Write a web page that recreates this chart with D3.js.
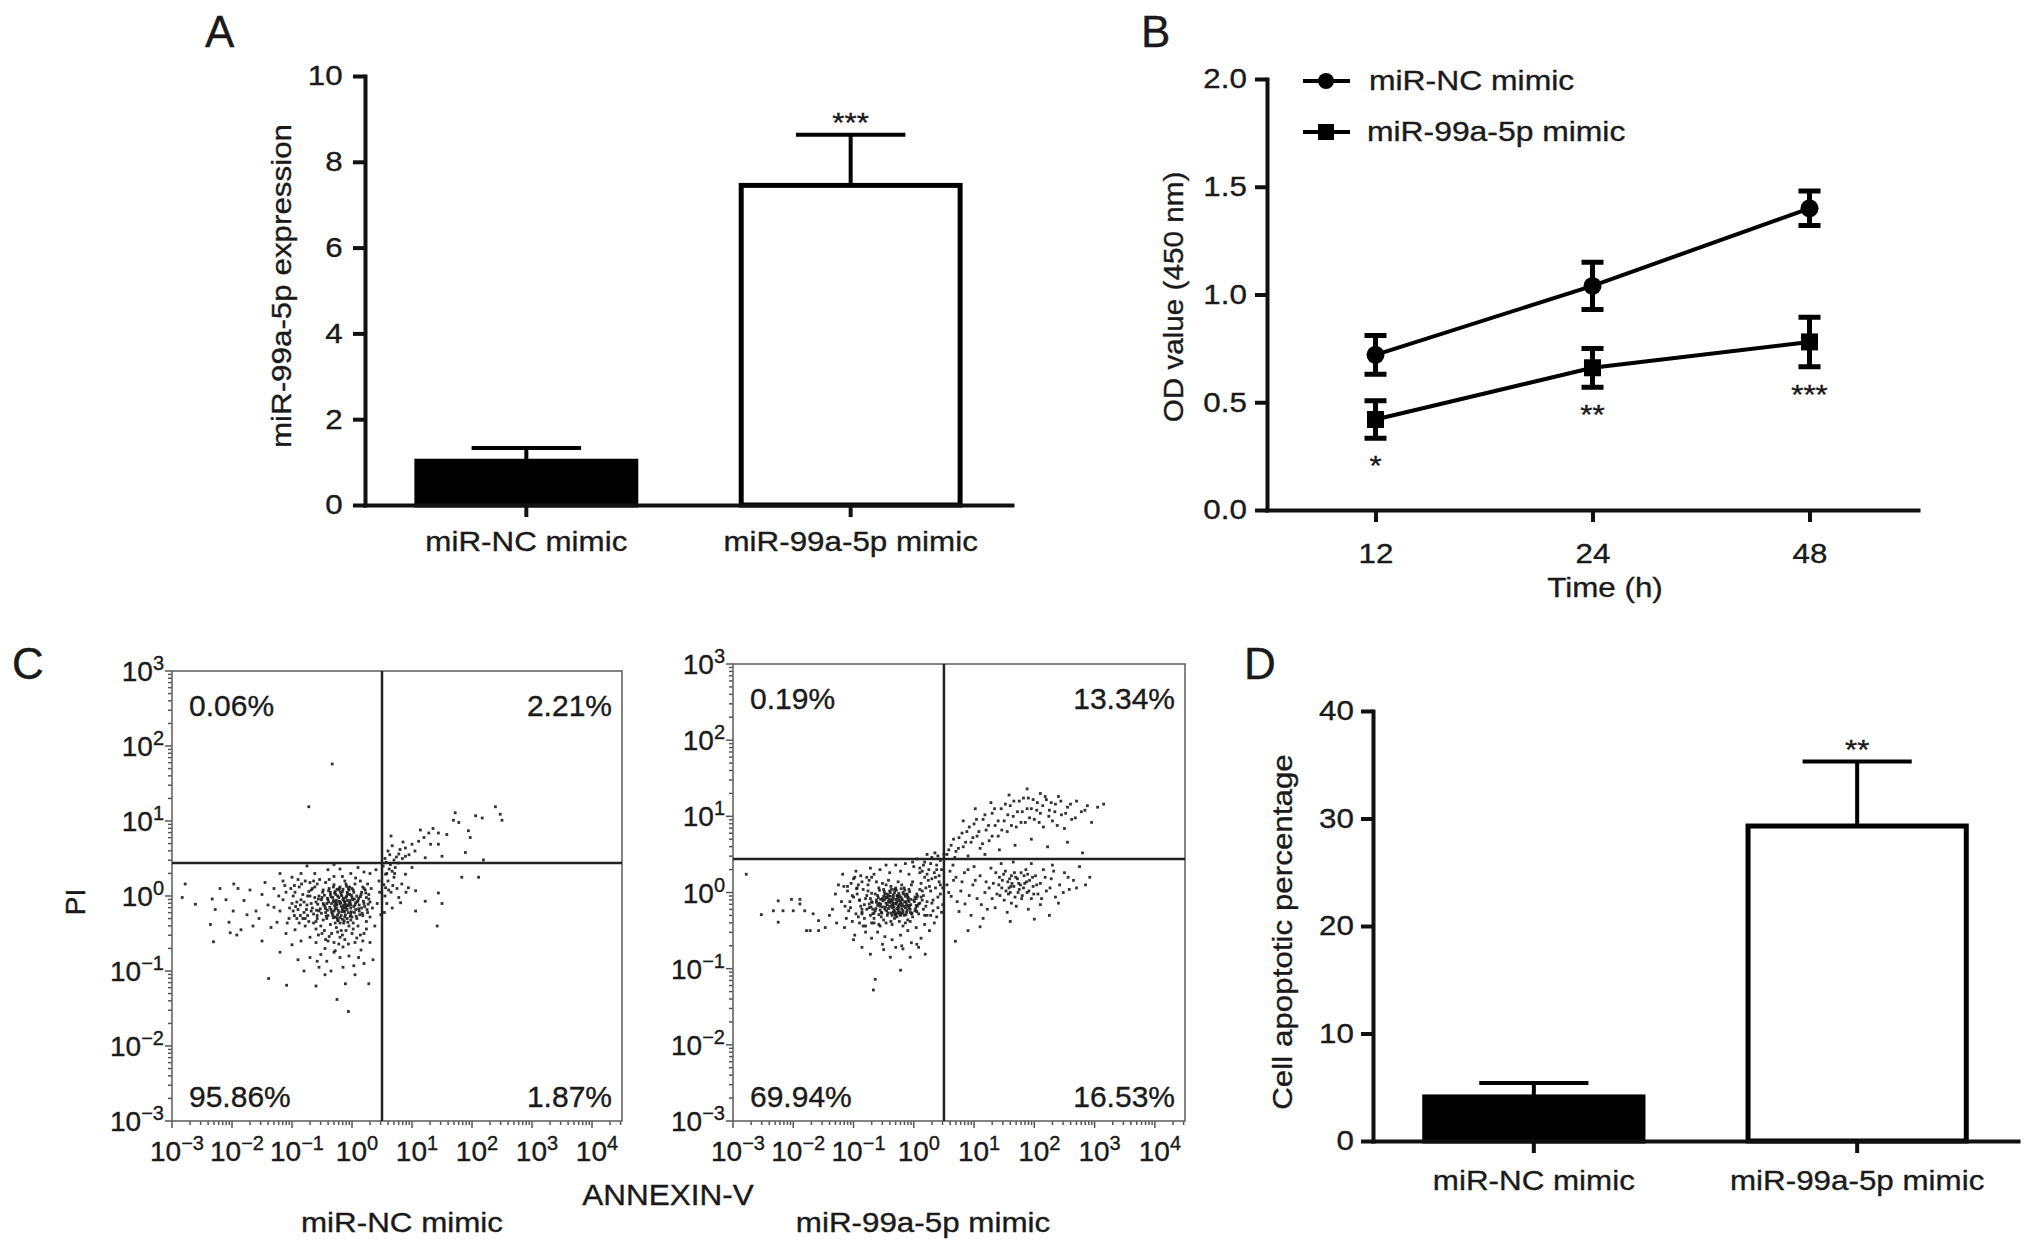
<!DOCTYPE html>
<html>
<head>
<meta charset="utf-8">
<script src="https://cdn.jsdelivr.net/npm/d3@7"></script>
<style>
  body { margin: 0; background: #fff; }
  svg { display: block; }
  text { font-family: "Liberation Sans", Arial, Helvetica, sans-serif; fill: #1a1a1a; stroke: #1a1a1a; stroke-width: 0.35; }
</style>
</head>
<body>
<svg width="2032" height="1251"></svg>
<script>
// ---- data ----
const groups = ['miR-NC mimic', 'miR-99a-5p mimic'];

// A: relative expression
const exprMean = [1.02, 7.45];
const exprErr = [0.31, 1.18];
const exprStars = ['', '***'];
const exprTicks = [0, 2, 4, 6, 8, 10];

// B: CCK-8 OD values
const hours = [12, 24, 48];
const odNC = [0.72, 1.04, 1.40];
const odNCErr = [0.09, 0.11, 0.08];
const od99 = [0.42, 0.66, 0.78];
const od99Err = [0.087, 0.09, 0.115];
const odStars = ['*', '**', '***'];
const odTicks = [0, 0.5, 1.0, 1.5, 2.0];

// D: apoptosis percentage
const apopMean = [4.1, 29.3];
const apopErr = [1.3, 6.0];
const apopStars = ['', '**'];
const apopTicks = [0, 10, 20, 30, 40];

// C: flow cytometry quadrants (UL, UR, LL, LR)
const quadNC = ['0.06%', '2.21%', '95.86%', '1.87%'];
const quad99 = ['0.19%', '13.34%', '69.94%', '16.53%'];
const decadesX = [-3, -2, -1, 0, 1, 2, 3, 4];
const decadesY = [-3, -2, -1, 0, 1, 2, 3];
const gateLog = [0.5, 0.44]; // annexin, PI gate (log10)

// events as [log10 ANNEXIN-V, log10 PI]
const cellsNC = [
  [-0.20,-0.10],[-0.15,-0.05],[-0.25,-0.12],[-0.10,-0.15],[-0.30,-0.08],[-0.05,-0.10],[0.00,-0.02],[-0.35,-0.18],[-0.18,0.02],[-0.22,-0.22],
  [-0.12,-0.28],[-0.40,-0.05],[-0.08,0.05],[0.05,-0.12],[-0.28,0.06],[-0.45,-0.14],[-0.02,-0.24],[0.10,-0.06],[-0.32,-0.26],[-0.16,-0.18],
  [-0.50,-0.02],[-0.24,-0.32],[0.12,-0.20],[-0.06,0.10],[-0.38,0.10],[-0.55,-0.20],[0.02,0.08],[-0.14,-0.36],[0.15,0.02],[-0.42,-0.30],
  [-0.60,-0.08],[-0.30,0.15],[0.08,-0.30],[-0.20,0.12],[-0.66,-0.16],[0.20,-0.10],[-0.05,-0.40],[-0.48,0.08],[0.18,-0.26],[-0.10,0.16],
  [-0.70,0.00],[-0.26,-0.42],[0.22,0.08],[-0.58,-0.30],[-0.36,-0.38],[0.05,0.16],[-0.75,-0.12],[0.25,-0.18],[-0.02,-0.32],[-0.44,0.18],
  [-0.80,-0.22],[-0.18,-0.46],[0.28,-0.04],[-0.62,0.12],[0.10,-0.40],[-0.12,0.20],[-0.85,-0.05],[0.30,-0.28],[-0.52,-0.40],[-0.34,-0.50],
  [-0.90,-0.18],[0.32,0.10],[-0.72,-0.34],[0.00,-0.50],[-0.20,-0.55],[0.14,0.20],[-0.54,0.22],[-0.95,0.05],[0.34,-0.16],[-0.40,-0.60],
  [-0.08,-0.06],[-0.22,-0.02],[-0.30,-0.20],[-0.12,-0.20],[-0.02,-0.16],[-0.26,-0.16],[-0.18,-0.26],[-0.06,-0.22],[-0.34,-0.10],[-0.10,-0.02],
  [-0.16,0.06],[0.04,-0.04],[-0.24,0.00],[-0.04,0.02],[-0.28,-0.28],[0.06,-0.18],[-0.14,-0.12],[-0.36,0.02],[-0.20,-0.36],[0.00,-0.28],
  [-0.44,-0.22],[-0.48,-0.10],[0.08,0.00],[-0.26,-0.06],[-0.12,-0.08],[-0.04,-0.06],[-0.32,-0.02],[-0.18,-0.14],[-0.08,-0.30],[0.12,-0.12],
  [-0.40,-0.26],[-0.22,0.08],[-0.56,-0.04],[0.16,-0.16],[-0.64,-0.24],[0.02,-0.36],[-0.28,-0.36],[0.18,0.12],[-0.38,0.22],[-0.10,-0.46],
  [0.24,-0.34],[-0.46,-0.46],[0.26,0.16],[-0.68,0.08],[-0.16,0.26],[0.06,0.24],[-0.78,-0.30],[0.30,-0.08],[-0.60,-0.44],[-0.30,0.26],
  [-0.19,-0.09],[-0.13,-0.07],[-0.27,-0.11],[-0.09,-0.13],[-0.31,-0.06],[-0.03,-0.09],[0.01,-0.05],[-0.37,-0.15],[-0.17,0.00],[-0.23,-0.19],
  [-0.11,-0.25],[-0.41,-0.03],[-0.07,0.03],[0.03,-0.14],[-0.29,0.04],[-0.47,-0.12],[-0.01,-0.21],[0.09,-0.08],[-0.33,-0.23],[-0.15,-0.15],
  [-0.51,-0.05],[-0.25,-0.29],[0.11,-0.17],[-0.05,0.08],[-0.39,0.07],[-0.53,-0.17],[0.03,0.05],[-0.13,-0.33],[0.14,-0.01],[-0.43,-0.27],
  [-0.57,-0.11],[-0.31,0.12],[0.07,-0.27],[-0.21,0.10],[-0.59,-0.19],[0.19,-0.07],[-0.07,-0.35],[-0.49,0.05],[0.17,-0.23],[-0.09,0.13],
  [-0.21,-0.07],[-0.14,-0.03],[-0.26,-0.09],[-0.11,-0.11],[-0.29,-0.13],[-0.06,-0.13],[-0.01,0.01],[-0.34,-0.21],[-0.19,0.05],[-0.24,-0.25],
  [-0.13,-0.21],[-0.39,-0.08],[-0.09,0.00],[0.06,-0.09],[-0.27,0.02],[-0.44,-0.17],[-0.03,-0.27],[0.11,-0.03],[-0.31,-0.29],[-0.17,-0.21],
  [-0.46,0.01],[-0.23,-0.33],[0.13,-0.25],[-0.04,0.12],[-0.36,0.05],[-0.51,-0.23],[0.00,0.10],[-0.16,-0.31],[0.16,0.05],[-0.41,-0.19],
  [0.21,-0.14],[0.24,-0.02],[0.26,-0.22],[0.23,0.04],[0.27,-0.11],[-0.55,0.00],[-0.58,-0.26],[0.20,0.10],[-0.48,-0.32],[0.28,0.02],
  [-0.08,-0.18],[-0.28,-0.17],[-0.20,-0.29],[-0.35,-0.01],[-0.02,-0.12],[-0.15,0.09],[-0.42,-0.10],[0.04,-0.22],[-0.25,0.09],[-0.12,-0.16],
  [-0.62,-0.02],[-0.68,-0.10],[-0.72,0.06],[-0.76,-0.18],[-0.82,0.02],[-0.86,-0.26],[-0.92,-0.08],[-0.96,0.14],[-0.64,-0.36],[-0.70,0.18],
  [-0.78,-0.40],[-0.84,0.16],[-0.88,-0.36],[-0.94,-0.14],[-0.98,0.00],[-0.66,0.10],[-0.74,-0.26],[-0.80,-0.08],[-0.90,0.22],[-0.58,0.16],
  [-0.60,-0.34],[-1.04,-0.16],[-1.08,-0.36],[-1.12,0.14],[-0.86,-0.12],[-0.74,0.00],[-0.68,-0.20],[-0.82,-0.30],[-0.96,-0.26],[-0.64,0.20],
  [-0.50,-0.50],[-0.38,-0.54],[-0.24,-0.48],[-0.12,-0.58],[0.02,-0.44],[0.14,-0.52],[0.24,-0.44],[-0.30,-0.62],[-0.06,-0.64],[0.08,-0.56],
  [-0.44,-0.58],[-0.16,-0.52],[0.18,-0.60],[-0.56,-0.52],[-0.22,-0.64],
  [-1.00,-0.10],[-1.10,0.05],[-1.20,-0.20],[-1.30,0.10],[-1.05,-0.30],[-1.40,-0.12],[-1.15,0.20],[-1.50,0.02],[-1.25,-0.35],[-1.60,-0.20],
  [-1.70,0.08],[-1.45,0.18],[-1.80,-0.06],[-1.35,-0.42],[-1.90,0.10],[-1.55,-0.30],[-1.00,0.25],[-0.95,-0.45],[-1.65,-0.40],[-1.75,-0.25],
  [-1.20,0.30],[-1.10,-0.50],[-0.85,0.30],[-0.70,-0.55],[-0.60,-0.62],[-0.45,-0.70],[-0.30,-0.75],[-0.15,-0.68],[0.05,-0.62],[0.20,-0.50],
  [0.38,-0.40],[0.42,-0.10],[0.45,0.20],[0.40,0.35],[0.30,0.30],[0.20,0.32],[-0.02,0.30],[-0.20,0.36],[-0.40,0.35],[-0.62,0.30],
  [-0.78,0.20],[0.48,-0.25],[0.46,0.05],[-0.05,-0.80],[-0.20,-0.82],[0.15,-0.72],[0.30,-0.62],[-0.52,-0.78],[-0.85,-0.60],[-1.00,-0.65],
  [-0.75,0.40],[0.10,0.38],[-0.30,0.42],[-1.30,-0.15],[-1.15,-0.05],[-0.92,-0.30],[-0.88,0.12],[-1.02,0.10],[-1.22,0.00],[-0.98,-0.20],
  [-2.78,0.16],[-2.83,-0.02],[-2.61,-0.11],[-2.33,-0.04],[-2.28,-0.18],[-2.36,-0.38],[-2.31,-0.61],[-1.97,0.16],[-2.03,-0.49],[-1.92,-0.52],
  [-2.10,-0.05],[-2.20,0.10],[-1.98,-0.20],[-2.05,-0.35],[-1.85,-0.45],
  [-1.39,-1.10],[-1.09,-1.19],[-0.11,-1.17],[0.28,-1.17],[-0.25,-1.38],[-0.06,-1.54],[-0.55,-0.95],[-0.58,-0.87],[0.03,-0.93],[0.11,-0.82],
  [-0.42,-0.87],[-0.28,-0.73],[-0.70,-0.82],[-0.35,-1.00],[-0.15,-0.95],[0.20,-0.90],[-0.90,-0.85],[-1.20,-0.75],[-1.50,-0.60],[0.35,-0.85],
  [-0.45,-1.05],[-0.80,-1.00],[0.05,-1.05],[-0.60,-1.20],
  [-0.33,1.76],[-0.72,1.19],
  [0.67,0.33],[0.56,0.29],[0.89,0.29],[1.00,0.38],[0.83,0.16],[0.94,0.11],[1.06,0.07],[0.78,-0.02],[0.67,-0.16],[0.81,-0.09],
  [1.22,-0.07],[1.06,-0.20],[1.44,0.04],[1.50,-0.10],[1.42,-0.40],[1.83,0.25],[2.11,0.25],[0.56,0.11],[0.52,0.40],[0.60,0.20],
  [0.55,0.00],[0.58,-0.10],[0.62,0.36],[0.70,0.25],[0.75,0.10],[0.54,-0.22],[0.65,0.05],[0.72,0.38],[0.90,0.05],[0.58,0.30],
  [0.53,0.15],[0.61,0.08],[0.68,0.14],[0.71,0.30],
  [0.57,0.45],[0.64,0.42],[0.74,0.52],[0.77,0.44],[0.84,0.50],[0.63,0.55],
  [0.67,0.67],[0.89,0.64],[1.00,0.69],[1.11,0.73],[1.14,0.88],[1.28,0.84],[1.44,0.84],[1.58,0.82],[1.72,1.11],[1.69,1.01],
  [1.78,0.98],[2.06,1.07],[2.17,1.04],[2.39,1.19],[2.47,1.09],[2.50,1.01],[1.94,0.87],[1.97,0.78],[1.89,0.58],[1.44,0.69],
  [1.31,0.69],[1.50,0.53],[2.19,0.48],[1.22,0.51],[0.89,0.53],[0.78,0.56],[0.55,0.50],[0.60,0.60],[0.70,0.48],[0.80,0.62],
  [0.95,0.55],[1.05,0.60],[0.65,0.80],[1.20,0.78],[1.35,0.90],[0.85,0.72]
];

const cells99 = [
  [-0.30,-0.15],[-0.25,-0.10],[-0.36,-0.20],[-0.20,-0.18],[-0.42,-0.12],[-0.15,-0.12],[-0.10,-0.06],[-0.48,-0.22],[-0.28,-0.04],[-0.34,-0.26],
  [-0.22,-0.30],[-0.52,-0.08],[-0.18,0.00],[-0.05,-0.16],[-0.40,0.02],[-0.56,-0.18],[-0.12,-0.26],[0.00,-0.10],[-0.44,-0.30],[-0.26,-0.22],
  [-0.60,-0.04],[-0.32,-0.34],[0.02,-0.24],[-0.16,0.06],[-0.50,0.04],[-0.64,-0.24],[-0.08,0.04],[-0.24,-0.38],[0.05,-0.02],[-0.54,-0.32],
  [-0.70,-0.12],[-0.38,0.08],[-0.02,-0.32],[-0.30,0.06],[-0.74,-0.20],[0.10,-0.14],[-0.14,-0.40],[-0.58,0.06],[0.08,-0.28],[-0.20,0.10],
  [-0.78,-0.04],[-0.36,-0.42],[0.14,0.02],[-0.66,-0.34],[-0.46,-0.40],[-0.04,0.10],[-0.82,-0.16],[0.16,-0.22],[-0.10,-0.36],[-0.52,0.12],
  [-0.28,-0.12],[-0.34,-0.06],[-0.40,-0.18],[-0.22,-0.14],[-0.14,-0.20],[-0.46,-0.06],[-0.30,-0.28],[-0.18,-0.24],[-0.38,-0.10],[-0.24,-0.04],
  [-0.32,0.00],[-0.08,-0.12],[-0.44,-0.16],[-0.12,-0.02],[-0.36,-0.30],[-0.06,-0.22],[-0.26,-0.18],[-0.48,-0.02],[-0.28,-0.32],[-0.04,-0.28],
  [-0.54,-0.26],[-0.58,-0.14],[0.04,-0.08],[-0.34,-0.14],[-0.20,-0.08],[-0.16,-0.30],[-0.42,-0.04],[-0.24,-0.26],[-0.10,-0.18],[0.06,-0.18],
  [-0.50,-0.36],[-0.32,0.04],[-0.62,-0.10],[0.12,-0.06],[-0.68,-0.28],[-0.06,-0.38],[-0.38,-0.38],[0.10,0.04],[-0.46,0.10],[-0.18,-0.44],
  [0.18,-0.30],[-0.56,-0.44],[0.20,0.06],[-0.76,0.02],[-0.26,0.14],[-0.02,0.14],[-0.86,-0.28],[0.22,-0.12],[-0.70,-0.40],[-0.42,0.16],
  [-0.29,-0.14],[-0.23,-0.11],[-0.35,-0.17],[-0.19,-0.15],[-0.41,-0.09],[-0.13,-0.13],[-0.09,-0.07],[-0.47,-0.19],[-0.27,-0.05],[-0.33,-0.23],
  [-0.21,-0.27],[-0.51,-0.11],[-0.17,-0.02],[-0.07,-0.17],[-0.39,0.00],[-0.55,-0.15],[-0.11,-0.23],[0.01,-0.12],[-0.43,-0.27],[-0.25,-0.19],
  [-0.59,-0.07],[-0.31,-0.29],[0.03,-0.21],[-0.15,0.03],[-0.49,0.01],[-0.63,-0.21],[-0.07,0.01],[-0.23,-0.29],[0.06,-0.05],[-0.53,-0.27],
  [-0.69,-0.13],[-0.37,0.04],[-0.03,-0.27],[-0.29,0.03],[-0.71,-0.19],[0.08,-0.15],[-0.13,-0.29],[-0.57,0.03],[0.05,-0.25],[-0.21,0.05],
  [-0.30,-0.09],[-0.36,-0.12],[-0.42,-0.21],[-0.24,-0.16],[-0.16,-0.18],[-0.48,-0.09],[-0.32,-0.25],[-0.20,-0.22],[-0.40,-0.13],[-0.26,-0.07],
  [-0.34,-0.03],[-0.10,-0.10],[-0.46,-0.14],[-0.14,-0.05],[-0.38,-0.27],[-0.08,-0.20],[-0.28,-0.21],[-0.50,-0.05],[-0.30,-0.30],[-0.06,-0.26],
  [-0.56,-0.23],[-0.60,-0.17],[0.02,-0.06],[-0.36,-0.16],[-0.22,-0.06],[-0.18,-0.27],[-0.44,-0.07],[-0.26,-0.24],[-0.12,-0.16],[0.04,-0.17],
  [-0.52,-0.19],[-0.44,-0.02],[-0.64,-0.02],[-0.66,-0.27],[-0.72,-0.08],[-0.58,-0.29],[-0.62,-0.13],[-0.68,-0.22],[-0.74,-0.15],[-0.70,-0.01],
  [-0.33,-0.19],[-0.27,-0.27],[-0.39,-0.05],[-0.19,-0.10],[-0.45,-0.24],[-0.11,-0.03],[-0.05,-0.09],[-0.55,-0.09],[-0.35,-0.09],[-0.25,-0.01],
  [-0.80,-0.08],[-0.84,0.04],[-0.88,-0.18],[-0.92,0.10],[-0.96,-0.28],[-1.00,-0.06],[-1.04,0.12],[-1.08,-0.24],[-0.82,-0.34],[-0.86,0.14],
  [-0.90,-0.40],[-0.94,-0.02],[-0.98,0.20],[-1.02,-0.38],[-1.06,-0.12],[-0.78,-0.22],[-0.76,0.10],[-0.72,-0.30],[-0.74,0.16],[-0.80,-0.44],
  [-1.10,0.02],[-1.14,-0.18],[-1.16,0.08],[-0.86,-0.26],[-0.90,-0.10],[-0.94,0.06],[-0.70,0.20],[-0.66,-0.40],[-0.62,0.14],[-0.58,-0.42],
  [0.12,0.12],[0.16,-0.04],[0.20,-0.18],[0.24,0.16],[0.28,0.02],[0.32,-0.24],[0.36,0.20],[0.40,-0.06],[0.44,0.10],[0.48,-0.16],
  [0.14,-0.10],[0.18,0.20],[0.22,-0.30],[0.26,0.08],[0.30,-0.14],[0.34,0.26],[0.38,-0.32],[0.42,0.22],[0.46,-0.26],[0.48,0.06],
  [-0.90,-0.10],[-0.95,0.05],[-1.05,-0.20],[-1.10,0.08],[-0.92,-0.32],[-1.20,-0.12],[-1.00,0.18],[-1.30,-0.02],[-1.12,-0.34],[-1.35,-0.22],
  [-1.25,0.10],[-1.40,-0.30],[-0.88,0.22],[-0.84,-0.44],[-1.15,-0.46],[-0.78,0.20],[-0.66,0.24],[-0.60,-0.52],[-0.48,-0.58],[-0.36,-0.62],
  [-0.22,-0.56],[-0.10,-0.50],[0.04,-0.46],[0.18,-0.42],[0.28,-0.30],[0.32,-0.10],[0.36,0.06],[0.30,0.18],[0.22,0.24],[0.10,0.26],
  [-0.08,0.24],[-0.22,0.28],[-0.40,0.26],[-0.56,0.30],[0.40,-0.20],[0.42,0.14],[0.26,-0.50],[0.12,-0.60],[-0.04,-0.66],[-0.30,-0.72],
  [-0.52,-0.68],[-0.70,-0.60],[-0.98,-0.56],[-0.72,0.32],[0.00,0.34],[0.38,0.30],[-0.30,0.36],[-1.02,-0.04],[-0.86,-0.22],[-0.96,0.28],
  [0.44,-0.02],[0.34,-0.40],[0.16,0.36],[-0.14,0.38],[-0.46,0.36],[-1.18,0.24],[-1.28,-0.40],[-0.80,-0.52],[0.08,-0.72],[-0.18,-0.74],
  [0.10,0.32],[0.18,0.40],[0.25,0.30],[0.30,0.46],[0.38,0.36],[0.44,0.42],[0.05,0.44],[0.22,0.50],[0.35,0.52],[0.46,0.30],
  [0.14,0.28],[0.40,0.48],[-0.02,0.40],[0.28,0.38],[0.50,0.50],
  [-2.78,0.24],[-2.53,-0.29],[-2.25,-0.11],[-2.25,-0.39],[-2.33,-0.24],[-2.17,-0.24],[-2.00,-0.24],[-2.03,-0.09],[-1.89,-0.09],[-1.89,-0.15],
  [-1.81,-0.24],[-1.67,-0.28],[-1.58,-0.37],[-1.78,-0.50],[-1.72,-0.50],[-1.58,-0.50],[-1.47,-0.46],
  [-0.64,-1.14],[-0.67,-1.28],[-0.22,-1.02],[-0.72,-0.81],[-0.86,-0.72],[-0.39,-0.85],[-0.06,-0.85],[0.19,-0.81],[0.69,-0.64],[-0.50,-0.75],
  [-0.20,-0.70],[0.05,-0.68],[-1.00,-0.62],
  [0.55,0.10],[0.62,-0.05],[0.70,0.20],[0.78,0.02],[0.85,-0.15],[0.90,0.30],[0.98,0.10],[1.05,-0.08],[1.10,0.22],[1.18,0.00],
  [1.22,-0.22],[1.28,0.32],[1.32,0.12],[1.38,-0.02],[1.42,0.20],[1.46,0.06],[1.50,-0.10],[1.52,0.28],[1.56,0.14],[1.60,0.00],
  [1.62,0.22],[1.66,0.08],[1.68,-0.06],[1.72,0.18],[1.75,0.04],[1.78,0.26],[1.80,-0.04],[1.84,0.12],[1.86,0.30],[1.88,0.00],
  [1.92,0.16],[1.95,-0.08],[1.98,0.08],[2.02,0.22],[2.06,-0.02],[2.10,0.12],[2.15,0.30],[2.20,0.02],[2.28,0.18],[2.35,-0.06],
  [2.42,0.10],[2.50,0.26],[2.58,0.04],[2.65,0.16],[2.75,0.34],[2.85,0.10],[0.65,0.36],[0.75,-0.25],[0.95,-0.30],[1.15,-0.34],
  [1.35,-0.20],[1.55,-0.26],[1.70,-0.18],[1.90,-0.22],[2.10,-0.16],[2.25,-0.30],[1.45,0.38],[1.65,0.40],[1.95,0.38],[2.30,0.36],
  [0.60,0.28],[0.80,0.14],[1.00,0.34],[1.25,0.06],[1.62,-0.14],[1.82,0.06],[1.74,0.12],[1.58,0.06],
  [1.10,-0.45],[0.90,-0.50],[1.60,-0.38],[2.00,-0.35],
  [1.41,0.10],[1.47,0.16],[1.53,0.02],[1.59,0.18],[1.63,0.12],[1.69,0.20],[1.73,0.00],[1.77,0.10],[1.83,0.22],[1.87,0.14],
  [1.91,0.02],[1.97,0.20],[1.43,-0.04],[1.49,0.24],[1.57,-0.02],[1.67,0.26],[1.79,-0.08],[1.89,0.24],[1.99,-0.02],[1.61,0.08],
  [0.58,0.00],[0.66,0.16],[0.72,-0.12],[0.84,0.26],[0.92,-0.04],[1.02,0.16],[1.12,-0.16],[1.20,0.14],[1.30,-0.08],[1.36,0.26],
  [2.04,0.10],[2.12,-0.08],[2.18,0.20],[2.26,0.06],[2.32,0.28],[2.40,-0.14],[2.48,0.00],[2.56,0.20],[2.70,0.06],[2.92,0.20],
  [0.55,0.50],[0.62,0.62],[0.70,0.54],[0.75,0.72],[0.82,0.60],[0.88,0.80],[0.95,0.66],[1.00,0.90],[1.05,0.74],[1.10,0.58],
  [1.15,0.96],[1.20,0.82],[1.25,0.68],[1.30,1.04],[1.35,0.88],[1.40,0.74],[1.45,1.10],[1.50,0.94],[1.55,0.80],[1.60,1.14],
  [1.65,1.00],[1.70,0.86],[1.75,1.20],[1.80,1.06],[1.85,0.92],[1.90,1.24],[1.95,1.10],[2.00,0.96],[2.05,1.18],[2.10,1.04],
  [2.15,0.86],[2.20,1.22],[2.25,1.08],[2.30,0.94],[2.35,1.16],[2.40,1.26],[2.45,1.02],[2.50,0.84],[2.55,1.12],[2.62,0.96],
  [2.70,1.20],[2.78,1.06],[2.88,1.14],[3.05,1.12],[2.95,0.92],[0.68,0.46],[0.90,0.48],[1.18,0.50],[1.42,0.56],[1.68,0.62],
  [1.95,0.70],[2.22,0.60],[2.55,0.66],[2.80,0.52],[1.28,1.18],[1.58,1.28],[1.88,1.36],[2.10,1.30],[1.02,1.10],[0.82,0.94],
  [0.58,0.56],[0.66,0.70],[0.74,0.58],[0.80,0.78],[0.86,0.66],[0.92,0.86],[0.98,0.72],[1.04,0.96],[1.08,0.80],[1.14,0.64],
  [1.18,1.02],[1.24,0.88],[1.30,0.74],[1.34,1.10],[1.40,0.94],[1.46,0.82],[1.52,1.16],[1.56,1.02],[1.62,0.88],[1.66,1.20],
  [1.72,1.06],[1.78,0.92],[1.82,1.24],[1.88,1.10],[1.92,0.98],[1.98,1.22],[2.04,1.08],[2.08,0.92],[2.14,1.14],[2.18,1.26],
  [2.24,1.00],[2.28,1.18],[2.34,1.06],[2.38,0.88],[2.44,1.20],[2.52,1.04],[2.60,1.16],[2.68,0.98],[2.84,1.08],[3.15,1.16]
];

// ---- helpers ----
const svg = d3.select('svg');
const FONT = '"Liberation Sans", Arial, Helvetica, sans-serif';
const SX = 1.12; // the source figure text is a little wider than Arial

function txt(g, x, y, s, size, opts = {}) {
  const { anchor = 'middle', sx = SX, rot = 0 } = opts;
  return g.append('text')
    .attr('transform', `translate(${x},${y}) rotate(${rot}) scale(${sx},1)`)
    .attr('text-anchor', anchor)
    .attr('font-size', size)
    .text(s);
}

function styleAxis(g, size) {
  g.attr('font-family', FONT).attr('font-size', size);
  g.selectAll('path.domain').attr('stroke', '#111').attr('stroke-width', 4).attr('stroke-linecap', 'square');
  g.selectAll('.tick line').attr('stroke', '#111').attr('stroke-width', 4);
  g.selectAll('.tick text').attr('fill', '#1a1a1a').attr('transform', `scale(${SX},1)`);
}

// panel letters
const letters = svg.append('g');
[['A', 205, 47], ['B', 1141, 47], ['C', 12, 679], ['D', 1244, 679]].forEach(([l, x, y]) =>
  letters.append('text').attr('x', x).attr('y', y).attr('font-size', 44).text(l));

// ---- bar panels (A, D) ----
function barPanel(cfg) {
  const g = svg.append('g');
  const x = d3.scaleBand().domain(groups).range([cfg.x0, cfg.x1])
    .paddingInner(0.325).paddingOuter(0.16);
  const y = d3.scaleLinear().domain([0, d3.max(cfg.ticks)]).range([cfg.yb, cfg.yt]);
  const bw = x.bandwidth();

  g.selectAll('rect').data(groups).join('rect')
    .attr('x', d => x(d))
    .attr('width', bw)
    .attr('y', (d, i) => y(cfg.mean[i]))
    .attr('height', (d, i) => y(0) - y(cfg.mean[i]))
    .attr('fill', (d, i) => i === 0 ? '#000' : '#fff')
    .attr('stroke', '#000')
    .attr('stroke-width', 5);

  // error bars (upper only)
  g.selectAll('path.err').data(groups).join('path')
    .attr('class', 'err')
    .attr('fill', 'none').attr('stroke', '#000').attr('stroke-width', 4)
    .attr('d', (d, i) => {
      const cx = x(d) + bw / 2, top = y(cfg.mean[i] + cfg.err[i]);
      return `M${cx},${y(cfg.mean[i])}V${top}M${cx - bw / 4},${top}H${cx + bw / 4}`;
    });

  g.selectAll('text.star').data(groups).join('text')
    .attr('class', 'star')
    .attr('text-anchor', 'middle')
    .attr('font-size', 28)
    .attr('transform', (d, i) => `translate(${x(d) + bw / 2},${y(cfg.mean[i] + cfg.err[i]) - 3}) scale(${SX},1)`)
    .text((d, i) => cfg.stars[i]);

  g.append('g').attr('transform', `translate(0,${cfg.yb})`)
    .call(d3.axisBottom(x).tickSize(12).tickSizeOuter(0).tickPadding(cfg.xpad))
    .call(a => styleAxis(a, 28));
  g.append('g').attr('transform', `translate(${cfg.x0},0)`)
    .call(d3.axisLeft(y).tickValues(cfg.ticks).tickSize(12).tickSizeOuter(0).tickPadding(cfg.ypad))
    .call(a => styleAxis(a, 28));

  txt(g, cfg.labX, cfg.labY, cfg.label, 28, { rot: -90 });
}

barPanel({ x0: 365, x1: 1012, yb: 505, yt: 76, mean: exprMean, err: exprErr, stars: exprStars,
  ticks: exprTicks, xpad: 14, ypad: 8, label: 'miR-99a-5p expression', labX: 291, labY: 286 });

barPanel({ x0: 1373, x1: 2018, yb: 1141, yt: 711, mean: apopMean, err: apopErr, stars: apopStars,
  ticks: apopTicks, xpad: 17, ypad: 5, label: 'Cell apoptotic percentage', labX: 1292, labY: 932 });

// ---- B: growth curves ----
{
  const g = svg.append('g');
  const x = d3.scalePoint().domain(hours).range([1267, 1918]).padding(0.5);
  const y = d3.scaleLinear().domain([0, 2]).range([510, 79]);
  const series = [
    { name: groups[0], mean: odNC, err: odNCErr, shape: 'circle' },
    { name: groups[1], mean: od99, err: od99Err, shape: 'square' }
  ];
  const line = d3.line().x((d, i) => x(hours[i])).y(d => y(d));

  series.forEach(s => {
    g.append('path').datum(s.mean)
      .attr('fill', 'none').attr('stroke', '#000').attr('stroke-width', 4)
      .attr('d', line);
    g.selectAll(null).data(s.mean).join('path')
      .attr('fill', 'none').attr('stroke', '#000').attr('stroke-width', 5)
      .attr('d', (d, i) => {
        const cx = x(hours[i]), t = y(d + s.err[i]), b = y(d - s.err[i]);
        return `M${cx},${t}V${b}M${cx - 11},${t}H${cx + 11}M${cx - 11},${b}H${cx + 11}`;
      });
    if (s.shape === 'circle') {
      g.selectAll(null).data(s.mean).join('circle')
        .attr('cx', (d, i) => x(hours[i])).attr('cy', d => y(d)).attr('r', 9).attr('fill', '#000');
    } else {
      g.selectAll(null).data(s.mean).join('rect')
        .attr('x', (d, i) => x(hours[i]) - 8.5).attr('y', d => y(d) - 8.5)
        .attr('width', 17).attr('height', 17).attr('fill', '#000');
    }
  });

  // significance under the miR-99a-5p points
  g.selectAll('text.star').data(od99).join('text')
    .attr('class', 'star').attr('text-anchor', 'middle').attr('font-size', 28)
    .attr('transform', (d, i) => `translate(${x(hours[i])},${y(d - od99Err[i]) + 37}) scale(${SX},1)`)
    .text((d, i) => odStars[i]);

  g.append('g').attr('transform', 'translate(0,510)')
    .call(d3.axisBottom(x).tickSize(12).tickSizeOuter(0).tickPadding(21))
    .call(a => styleAxis(a, 28));
  g.append('g').attr('transform', 'translate(1267,0)')
    .call(d3.axisLeft(y).tickValues(odTicks).tickFormat(d3.format('.1f')).tickSize(12).tickSizeOuter(0).tickPadding(6))
    .call(a => styleAxis(a, 28));

  txt(g, 1183, 297, 'OD value (450 nm)', 28, { rot: -90, sx: 1.06 });
  txt(g, 1605, 597, 'Time (h)', 28);

  // legend
  const lg = g.append('g');
  series.forEach((s, i) => {
    const ly = 81 + i * 51;
    lg.append('line').attr('x1', 1303).attr('x2', 1350).attr('y1', ly).attr('y2', ly)
      .attr('stroke', '#000').attr('stroke-width', 4);
    if (s.shape === 'circle') lg.append('circle').attr('cx', 1326).attr('cy', ly).attr('r', 8).attr('fill', '#000');
    else lg.append('rect').attr('x', 1318).attr('y', ly - 8).attr('width', 16).attr('height', 16).attr('fill', '#000');
    txt(lg, 1369 - i * 2, ly + 9, s.name, 27, { anchor: 'start', sx: 1.18 });
  });
}

// ---- C: annexin-V / PI dot plots ----
function supLabel(g, x, y, d, anchor) {
  const t = g.append('text').attr('x', x).attr('y', y).attr('text-anchor', anchor).attr('font-size', 28);
  t.append('tspan').text('10');
  t.append('tspan').attr('font-size', 20).attr('dy', '-0.55em').text(String(d).replace('-', '\u2212'));
}

function flowPanel(box, cells, quad, caption, capX) {
  const g = svg.append('g');
  const x = d3.scaleLog().domain([1e-3, 10 ** 4.5]).range([box.x, box.x + box.w]);
  const y = d3.scaleLog().domain([1e-3, 1e3]).range([box.y + box.h, box.y]);
  const isMajor = v => Math.abs(Math.log10(v) - Math.round(Math.log10(v))) < 1e-6;
  const bottom = box.y + box.h;

  // minor + major ticks
  g.selectAll('line.xt').data(x.ticks()).join('line')
    .attr('x1', d => x(d)).attr('x2', d => x(d))
    .attr('y1', bottom).attr('y2', d => bottom + (isMajor(d) ? 7 : 4))
    .attr('stroke', '#555').attr('stroke-width', 1.5);
  g.selectAll('line.yt').data(y.ticks()).join('line')
    .attr('y1', d => y(d)).attr('y2', d => y(d))
    .attr('x1', box.x).attr('x2', d => box.x - (isMajor(d) ? 7 : 4))
    .attr('stroke', '#555').attr('stroke-width', 1.5);

  decadesX.forEach(d => supLabel(g, x(10 ** d) + 5, 1161, d, 'middle'));
  decadesY.forEach(d => supLabel(g, box.x - 8, y(10 ** d) + 10, d, 'end'));

  // events
  g.selectAll('rect.ev').data(cells).join('rect')
    .attr('x', d => x(10 ** d[0]) - 1.4).attr('y', d => y(10 ** d[1]) - 1.4)
    .attr('width', 2.8).attr('height', 2.8)
    .attr('fill', '#1c1c1c').attr('opacity', 0.9);

  g.append('rect').attr('x', box.x).attr('y', box.y).attr('width', box.w).attr('height', box.h)
    .attr('fill', 'none').attr('stroke', '#666').attr('stroke-width', 1.6);

  const gx = x(10 ** gateLog[0]), gy = y(10 ** gateLog[1]);
  g.append('line').attr('x1', gx).attr('x2', gx).attr('y1', box.y).attr('y2', bottom)
    .attr('stroke', '#222').attr('stroke-width', 2.5);
  g.append('line').attr('x1', box.x).attr('x2', box.x + box.w).attr('y1', gy).attr('y2', gy)
    .attr('stroke', '#222').attr('stroke-width', 2.5);

  const qpos = [
    [box.x + 17, box.y + 45, 'start'], [box.x + box.w - 10, box.y + 45, 'end'],
    [box.x + 17, bottom - 14, 'start'], [box.x + box.w - 10, bottom - 14, 'end']
  ];
  quad.forEach((q, i) => txt(g, qpos[i][0], qpos[i][1], q, 30, { anchor: qpos[i][2], sx: 1 }));

  txt(g, capX, 1232, caption, 28);
}

flowPanel({ x: 172, y: 671, w: 450, h: 450 }, cellsNC, quadNC, groups[0], 402);
flowPanel({ x: 733, y: 664, w: 452, h: 457 }, cells99, quad99, groups[1], 923);

{
  const g = svg.append('g');
  txt(g, 85, 902, 'PI', 28, { rot: -90, sx: 1 });
  txt(g, 668, 1205, 'ANNEXIN-V', 30, { sx: 1.05 });
}
</script>
</body>
</html>
